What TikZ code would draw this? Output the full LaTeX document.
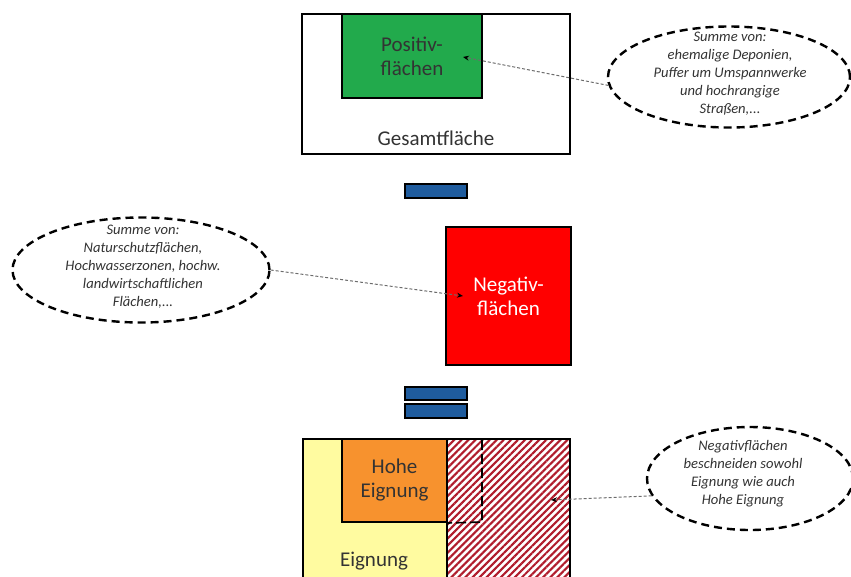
\documentclass[tikz,border=0pt]{standalone}
\usepackage{fontspec}
\setmainfont{Carlito}
\usetikzlibrary{shapes.geometric,arrows.meta,patterns.meta}
\definecolor{posgreen}{HTML}{22AA4C}
\definecolor{negred}{HTML}{FF0000}
\definecolor{barblue}{HTML}{1F5C9E}
\definecolor{eigyellow}{HTML}{FFFBA0}
\definecolor{hoheorange}{HTML}{F7922E}
\definecolor{hatchred}{HTML}{B01C2C}
\definecolor{txtgray}{HTML}{333333}
\tikzset{
  box/.style={draw=black, line width=2pt, rectangle, inner sep=0pt, text=txtgray,
    font=\fontsize{21}{24}\selectfont, align=center},
  bar/.style={draw=black, line width=1.2pt, fill=barblue, rectangle, inner sep=0pt,
    minimum width=62pt},
  note/.style={draw=black, ellipse, line width=2.4pt, dash pattern=on 8pt off 5pt,
    inner sep=0pt},
  notetext/.style={text=txtgray, align=center, font=\fontsize{14.6}{18}\selectfont\itshape},
  pointer/.style={draw=gray!85!black, line width=1pt, dash pattern=on 3pt off 2pt,
    -{Stealth[black, length=6pt, width=5pt]}},
  boxtext/.style={text=txtgray, align=center, font=\fontsize{21}{24}\selectfont}
}
\begin{document}
\begin{tikzpicture}[x=1pt,y=-1pt]
\useasboundingbox (0,0) rectangle (851,576);
% top: Gesamtflaeche
\node[box, fill=white, minimum width=268pt, minimum height=140pt] (gesamt) at (436,84) {};
\node[box, fill=posgreen, minimum width=140pt, minimum height=84pt] (pos) at (412,56) {Positiv-\\flächen};
\node[boxtext] (gesamtlabel) at (436,138) {Gesamtfläche};
% minus
\node[bar, minimum height=14pt] (minus) at (436,191) {};
% negative
\node[box, fill=negred, text=white, minimum width=125pt, minimum height=138pt] (neg) at (508.5,296) {Negativ-\\flächen};
% equals
\node[bar, minimum height=13pt] (eqa) at (436,393.5) {};
\node[bar, minimum height=14pt] (eqb) at (436,411) {};
% bottom
\node[box, fill=eigyellow, minimum width=267pt, minimum height=160pt] (eignung) at (436.5,519) {};
\node[box, fill=white, minimum width=123pt, minimum height=160pt] (hatchbg) at (508.5,519) {};
\node[box, pattern={Lines[angle=45,distance=5pt,line width=2.1pt]}, pattern color=hatchred,
  minimum width=123pt, minimum height=160pt] (hatch) at (508.5,519) {};
\node[box, fill=hoheorange, minimum width=105pt, minimum height=83pt] (hohe) at (394.5,480.5) {Hohe\\Eignung};
\node[boxtext] (eiglabel) at (374,561) {Eignung};
\coordinate (dtop) at (482,440);
\coordinate (dcorner) at (482,522);
\draw[black, line width=1.6pt, dash pattern=on 10pt off 4pt] (dtop) -- (dcorner) -- (hohe.south east);
% notes
\node[note, minimum width=242pt, minimum height=101pt] (n1) at (729,77) {};
\node[notetext] (n1t) at (730,74) {Summe von:\\ehemalige Deponien,\\Puffer um Umspannwerke\\und hochrangige\\Straßen,...};
\node[note, minimum width=257pt, minimum height=105pt] (n2) at (141,270) {};
\node[notetext] (n2t) at (143,267) {Summe von:\\Naturschutzflächen,\\Hochwasserzonen, hochw.\\landwirtschaftlichen\\Flächen,...};
\node[note, minimum width=206pt, minimum height=103pt] (n3) at (750,478.5) {};
\node[notetext] (n3t) at (743,474) {Negativflächen\\beschneiden sowohl\\Eignung wie auch\\Hohe Eignung};
% pointers
\coordinate (t1) at (463,57);
\coordinate (t2) at (463,296);
\coordinate (t3) at (551,500);
\draw[pointer] (n1.184) -- (t1);
\draw[pointer] (n2.east) -- (t2);
\draw[pointer] (n3.190) -- (t3);
\end{tikzpicture}
\end{document}
